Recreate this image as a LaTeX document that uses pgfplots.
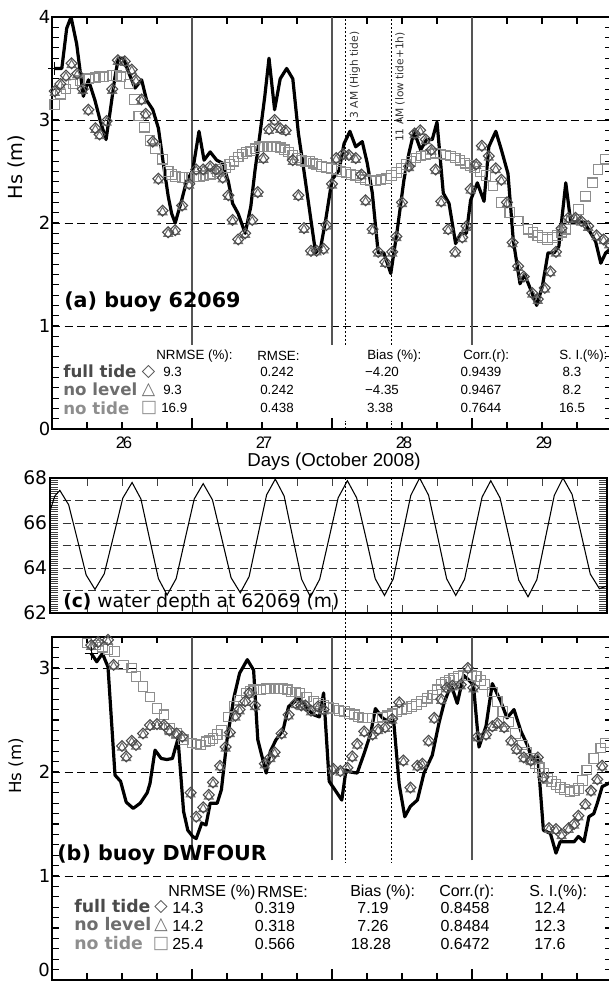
\documentclass[border=0pt]{standalone}
\usepackage{fontspec}
\setmainfont{DejaVu Sans}
\newfontfamily\hel{Liberation Sans}
\usepackage{pgfplots}
\pgfplotsset{compat=1.18}
\usepackage{pgfplotstable}

\definecolor{cfull}{HTML}{4A4A4A}
\definecolor{clev}{HTML}{6E6E6E}
\definecolor{cnone}{HTML}{8E8E8E}
\definecolor{cvl}{HTML}{555555}
\newcommand\fs[1]{\fontsize{#1}{#1}\selectfont}

% ---------- panel (a): buoy 62069 ----------
\pgfplotstableread{
d hs
25.52 3.50
25.57 3.50
25.605 3.89
25.636 4.00
25.676 3.74
25.724 3.23
25.76 3.39
25.807 3.19
25.843 3.00
25.886 2.81
25.914 3.07
25.95 3.42
25.974 3.60
26.01 3.60
26.045 3.47
26.093 3.31
26.14 3.39
26.176 3.19
26.22 3.10
26.26 2.92
26.295 2.58
26.33 2.26
26.355 2.09
26.38 2.00
26.426 2.22
26.46 2.40
26.505 2.51
26.55 2.89
26.586 2.61
26.63 2.69
26.676 2.61
26.72 2.58
26.76 2.40
26.79 2.19
26.83 2.09
26.88 1.90
26.92 2.16
26.95 2.51
26.986 2.87
27.02 3.23
27.05 3.60
27.09 3.10
27.13 3.40
27.176 3.50
27.22 3.40
27.26 2.87
27.295 2.55
27.34 2.12
27.383 1.71
27.42 1.77
27.455 2.03
27.50 2.42
27.55 2.51
27.586 2.77
27.628 2.89
27.669 2.74
27.716 2.79
27.752 2.58
27.788 2.29
27.83 1.71
27.87 1.71
27.92 1.51
27.966 1.93
28.014 2.42
28.05 2.68
28.086 2.89
28.133 2.71
28.176 2.81
28.216 2.81
28.25 2.98
28.295 2.29
28.336 2.19
28.383 1.80
28.42 1.90
28.46 1.90
28.49 2.22
28.538 2.39
28.586 2.21
28.62 2.74
28.67 2.89
28.71 2.71
28.757 2.48
28.795 1.83
28.843 1.41
28.876 1.50
28.92 1.35
28.962 1.20
29.002 1.38
29.043 1.71
29.086 1.71
29.12 1.77
29.17 2.39
29.205 2.01
29.25 2.01
29.30 2.01
29.336 1.93
29.383 1.82
29.42 1.61
29.455 1.71
29.49 1.75
}\aobs

\pgfplotstableread{
d hs
25.52 3.28
25.56 3.35
25.60 3.43
25.64 3.55
25.68 3.45
25.72 3.30
25.76 3.10
25.81 2.92
25.84 2.86
25.89 2.99
25.93 3.30
25.97 3.58
26.02 3.57
26.07 3.49
26.10 3.39
26.14 3.20
26.17 3.06
26.22 2.79
26.26 2.43
26.29 2.12
26.33 1.91
26.38 1.93
26.43 2.17
26.48 2.38
26.53 2.52
26.58 2.52
26.63 2.55
26.67 2.52
26.72 2.44
26.76 2.27
26.79 2.03
26.83 1.84
26.88 1.90
26.93 2.03
26.97 2.30
27.01 2.63
27.05 2.91
27.09 3.00
27.13 2.92
27.17 2.90
27.22 2.61
27.26 2.27
27.30 1.95
27.35 1.73
27.39 1.73
27.44 1.75
27.46 1.98
27.50 2.38
27.53 2.63
27.58 2.67
27.62 2.66
27.67 2.63
27.71 2.47
27.74 2.22
27.79 1.94
27.83 1.72
27.88 1.62
27.93 1.72
27.96 1.87
28.00 2.20
28.05 2.55
28.09 2.87
28.13 2.90
28.17 2.81
28.21 2.71
28.24 2.52
28.28 2.21
28.33 1.94
28.38 1.72
28.43 1.86
28.46 1.97
28.49 2.33
28.53 2.57
28.57 2.75
28.62 2.65
28.67 2.53
28.71 2.42
28.75 2.20
28.79 1.81
28.83 1.58
28.87 1.48
28.93 1.32
28.97 1.26
29.02 1.37
29.06 1.53
29.10 1.72
29.14 1.95
29.19 2.05
29.24 2.05
29.28 2.02
29.33 1.97
29.39 1.88
29.44 1.84
29.48 1.80
}\afull

\pgfplotstableread{
d hs
25.52 3.15
25.56 3.25
25.60 3.30
25.65 3.35
25.70 3.38
25.76 3.40
25.81 3.41
25.87 3.42
25.93 3.43
25.99 3.42
26.05 3.35
26.09 3.20
26.12 3.04
26.16 2.93
26.20 2.80
26.24 2.72
26.29 2.62
26.33 2.50
26.38 2.45
26.43 2.44
26.48 2.44
26.53 2.45
26.58 2.46
26.63 2.47
26.68 2.50
26.74 2.54
26.80 2.60
26.86 2.67
26.92 2.70
26.98 2.74
27.04 2.74
27.10 2.74
27.16 2.71
27.22 2.66
27.28 2.61
27.34 2.60
27.39 2.57
27.46 2.54
27.53 2.52
27.60 2.49
27.67 2.46
27.74 2.42
27.81 2.41
27.89 2.43
27.96 2.49
28.03 2.57
28.10 2.63
28.17 2.66
28.24 2.68
28.31 2.66
28.38 2.63
28.45 2.58
28.52 2.54
28.60 2.46
28.65 2.36
28.71 2.20
28.77 2.10
28.83 2.02
28.90 1.94
28.97 1.88
29.04 1.84
29.11 1.88
29.17 1.94
29.21 2.03
29.26 2.13
29.31 2.26
29.36 2.39
29.40 2.52
29.45 2.62
25.84 3.42
25.96 3.43
26.355 2.47
26.455 2.44
26.555 2.45
26.655 2.48
26.71 2.52
26.77 2.57
26.83 2.64
26.89 2.69
26.95 2.72
27.01 2.74
27.07 2.74
27.13 2.73
27.19 2.69
27.25 2.63
27.31 2.60
27.365 2.58
27.425 2.55
27.495 2.53
27.565 2.50
27.635 2.47
27.705 2.44
27.775 2.41
27.85 2.42
27.925 2.46
27.995 2.53
28.065 2.60
28.135 2.65
28.205 2.67
28.275 2.67
28.345 2.65
28.415 2.61
28.485 2.56
28.56 2.50
28.935 1.91
29.005 1.86
29.075 1.86
29.14 1.91
}\anone

% ---------- panel (c): water depth at 62069 ----------
\pgfplotstableread{
d h
25.489 66.6
25.52 67.2
25.556 67.45
25.619 66.81
25.682 65.25
25.744 63.69
25.807 63.05
25.873 63.74
25.94 65.43
26.006 67.11
26.072 67.80
26.135 67.07
26.197 65.30
26.26 63.53
26.322 62.80
26.387 63.53
26.451 65.30
26.516 67.07
26.58 67.75
26.646 67.03
26.713 65.30
26.779 63.57
26.845 62.90
26.908 63.62
26.97 65.43
27.033 67.25
27.095 67.95
27.158 67.20
27.22 65.35
27.283 63.50
27.346 62.72
27.412 63.50
27.478 65.30
27.544 67.12
27.61 67.88
27.676 67.12
27.743 65.33
27.809 63.52
27.875 62.78
27.938 63.52
28.00 65.38
28.063 67.23
28.126 68.00
28.19 67.23
28.255 65.38
28.319 63.52
28.384 62.78
28.447 63.50
28.509 65.33
28.572 67.15
28.634 67.88
28.70 67.12
28.767 65.30
28.834 63.46
28.90 62.72
28.963 63.48
29.025 65.35
29.088 67.23
29.15 68.00
29.215 67.27
29.28 65.50
29.345 63.73
29.41 63.08
29.464 63.20
}\depth

% ---------- panel (b): buoy DWFOUR ----------
\pgfplotstableread{
d hs
25.78 3.14
25.82 3.06
25.86 3.14
25.90 3.01
25.95 1.97
25.99 1.91
26.03 1.71
26.08 1.65
26.13 1.70
26.18 1.80
26.20 1.89
26.236 2.21
26.28 2.13
26.32 2.12
26.36 2.13
26.40 2.32
26.44 1.62
26.47 1.44
26.505 1.38
26.53 1.36
26.57 1.51
26.60 1.49
26.63 1.70
26.68 1.70
26.71 1.83
26.75 2.31
26.80 2.72
26.84 2.95
26.895 3.08
26.94 2.98
26.97 2.31
27.03 1.99
27.06 2.20
27.10 2.31
27.15 2.40
27.19 2.63
27.22 2.66
27.26 2.71
27.30 2.66
27.32 2.61
27.37 2.55
27.41 2.53
27.44 2.76
27.48 1.91
27.53 1.81
27.57 1.73
27.60 2.02
27.63 2.00
27.68 1.99
27.73 2.18
27.776 2.37
27.81 2.61
27.86 2.52
27.907 2.48
27.94 2.50
27.98 1.88
28.02 1.57
28.06 1.67
28.11 1.73
28.157 1.99
28.216 2.16
28.264 2.47
28.30 2.66
28.35 2.84
28.395 2.66
28.44 2.93
28.48 2.88
28.51 2.84
28.55 2.24
28.60 2.44
28.645 2.85
28.705 2.68
28.75 2.52
28.80 2.60
28.85 2.39
28.895 2.26
28.93 2.12
28.97 2.15
29.01 1.44
29.06 1.41
29.10 1.22
29.13 1.33
29.18 1.33
29.23 1.33
29.26 1.38
29.30 1.33
29.335 1.57
29.37 1.60
29.395 1.70
29.43 1.86
29.49 1.90
}\bobs

\pgfplotstableread{
d hs
25.78 3.22
25.83 3.25
25.90 3.27
25.94 3.03
26.00 2.25
26.03 2.15
26.07 2.30
26.10 2.26
26.15 2.37
26.20 2.45
26.25 2.46
26.30 2.45
26.34 2.40
26.39 2.37
26.43 2.34
26.49 1.80
26.53 1.57
26.58 1.66
26.62 1.78
26.65 1.90
26.70 2.06
26.74 2.24
26.77 2.38
26.81 2.54
26.84 2.60
26.88 2.68
26.91 2.76
26.95 2.64
27.02 2.08
27.06 2.14
27.09 2.19
27.14 2.37
27.19 2.55
27.24 2.66
27.28 2.64
27.31 2.64
27.35 2.59
27.40 2.63
27.44 2.60
27.51 2.03
27.56 2.01
27.61 2.04
27.645 2.15
27.68 2.27
27.73 2.39
27.79 2.36
27.83 2.41
27.88 2.43
27.93 2.51
27.98 2.67
28.01 2.11
28.06 1.85
28.11 2.06
28.145 2.08
28.19 2.30
28.23 2.52
28.28 2.70
28.32 2.81
28.36 2.83
28.42 2.84
28.47 3.00
28.51 2.81
28.54 2.34
28.60 2.36
28.645 2.44
28.68 2.47
28.73 2.43
28.78 2.30
28.82 2.22
28.87 2.14
28.92 2.11
28.97 2.14
29.01 1.95
29.05 1.46
29.10 1.45
29.14 1.40
29.19 1.46
29.23 1.50
29.26 1.58
29.31 1.69
29.35 1.82
29.395 1.93
29.43 2.06
}\bfull

\pgfplotstableread{
d hs
25.75 3.24
25.81 3.22
25.86 3.20
25.945 3.16
26.01 3.03
26.07 3.00
26.10 2.92
26.15 2.82
26.20 2.72
26.25 2.61
26.30 2.55
26.34 2.42
26.39 2.37
26.44 2.31
26.50 2.28
26.56 2.26
26.60 2.29
26.65 2.32
26.71 2.40
26.76 2.53
26.80 2.63
26.84 2.69
26.89 2.76
26.94 2.79
26.99 2.79
27.03 2.80
27.09 2.80
27.15 2.80
27.21 2.77
27.27 2.76
27.37 2.68
27.44 2.64
27.51 2.61
27.59 2.58
27.66 2.55
27.72 2.52
27.79 2.52
27.86 2.53
27.93 2.56
28.00 2.60
28.07 2.63
28.14 2.68
28.22 2.74
28.28 2.84
28.34 2.88
28.40 2.92
28.47 2.93
28.53 2.92
28.59 2.84
28.645 2.77
28.68 2.68
28.72 2.58
28.76 2.48
28.81 2.37
28.86 2.26
28.92 2.13
28.98 2.04
29.04 1.94
29.10 1.88
29.16 1.83
29.20 1.81
29.26 1.84
29.32 2.02
29.37 2.13
29.42 2.23
29.455 2.28
25.90 3.18
26.53 2.27
26.625 2.30
26.68 2.36
26.915 2.78
26.965 2.79
27.06 2.80
27.12 2.80
27.18 2.79
27.24 2.77
27.32 2.72
27.405 2.66
27.475 2.62
27.55 2.59
27.625 2.56
27.69 2.53
27.755 2.52
27.825 2.52
27.895 2.54
27.965 2.58
28.035 2.61
28.105 2.65
28.18 2.71
28.25 2.79
28.31 2.86
28.37 2.90
28.435 2.93
28.50 2.93
28.56 2.88
28.89 2.19
28.95 2.08
29.01 1.99
29.07 1.91
29.13 1.85
29.23 1.82
29.29 1.92
}\bnone

\tikzset{
  vline/.style={cvl, line width=0.8pt},
  dotl/.style={black, line width=1.1pt, dash pattern=on 1.5pt off 1.5pt},
}
\pgfplotsset{
  hsaxis/.style={
    scale only axis, width=420pt, xmin=25.5, xmax=29.5,
    axis line style={line width=1.1pt},
    tick style={black, line width=0.8pt},
    major tick length=5pt, minor tick length=5pt,
    tick align=inside,
    xtick={26,27,28,29},
    minor xtick={25.75,26.25,26.75,27.25,27.75,28.25,28.75,29.25},
    extra x ticks={26.5,27.5,28.5},
    extra x tick labels={},
    extra x tick style={major tick length=8pt, grid=none},
    ytick={0,1,2,3,4}, yticklabels={0,1,2,3,4},
    minor y tick num=9,
    ymajorgrids,
    major grid style={black, line width=0.7pt, dash pattern=on 6pt off 3.5pt},
    yticklabel style={font=\fs{13.5}, inner xsep=1pt},
  },
  obsline/.style={black, line width=2.4pt, line join=round, no marks},
  fullm/.style={only marks, mark=square, mark size=2.9pt,
    mark options={rotate=45, draw=cfull, line width=0.8pt, fill=none}},
  levm/.style={only marks, mark=triangle, mark size=3.8pt,
    mark options={yshift=-1.2pt, draw=clev, line width=0.8pt, fill=none}},
  nonem/.style={only marks, mark=square, mark size=3.6pt,
    mark options={draw=cnone, line width=0.85pt, fill=none}},
}

\begin{document}
\begin{tikzpicture}
\useasboundingbox (0,0) rectangle (456pt,736.5pt);

% (a)
\begin{axis}[hsaxis, at={(39pt,414.75pt)}, anchor=south west,
  height=309pt, ymin=0, ymax=4,
  xticklabels={2\kern-1.6pt6,2\kern-1.6pt7,2\kern-1.6pt8,2\kern-1.6pt9},
  xticklabel style={font=\hel\fs{12.5}, xshift=1.5pt, yshift=-2pt}]
\draw[vline] (axis cs:26.5,0.82) -- (axis cs:26.5,4);
\draw[vline] (axis cs:27.5,0.82) -- (axis cs:27.5,4);
\draw[vline] (axis cs:28.5,0.82) -- (axis cs:28.5,4);
\draw[dotl] (axis cs:27.595,0.82) -- (axis cs:27.595,4);
\draw[dotl] (axis cs:27.925,0.82) -- (axis cs:27.925,4);
\draw[dotl] (axis cs:27.595,0) -- (axis cs:27.595,0.08);
\draw[dotl] (axis cs:27.925,0) -- (axis cs:27.925,0.08);
\addplot[nonem] table[x=d,y=hs] {\anone};
\addplot[levm] table[x=d,y=hs] {\afull};
\addplot[fullm] table[x=d,y=hs] {\afull};
\addplot[obsline] table[x=d,y=hs] {\aobs};
\addplot[only marks, mark=+, mark size=5pt, line width=0.9pt] coordinates {(25.52,3.5)};
\end{axis}

% (c)
\begin{axis}[scale only axis, at={(37.5pt,276.75pt)}, anchor=south west,
  width=417.75pt, height=101.25pt,
  xmin=25.4857, xmax=29.4643, ymin=62, ymax=68, clip=false,
  axis line style={line width=1.1pt},
  tick style={black!75, line width=0.6pt},
  major tick length=6pt, minor tick length=6pt, tick align=inside,
  xtick={26,27,28,29},
  minor xtick={25.75,26.25,26.5,26.75,27.25,27.5,27.75,28.25,28.5,28.75,29.25},
  xticklabels={},
  ytick={62,...,68}, yticklabels={62,,64,,66,,68},
  minor y tick num=9,
  ymajorgrids,
  major grid style={black!80, line width=0.7pt, dash pattern=on 6pt off 3.5pt},
  yticklabel style={font=\fs{14}, inner xsep=2pt}]
\addplot[black, line width=0.8pt, no marks] table[x=d,y=h] {\depth};
\draw[dotl] (axis cs:27.595,68) -- (axis cs:27.595,50.93);
\draw[dotl] (axis cs:27.925,68) -- (axis cs:27.925,50.89);
\end{axis}

% (b)
\begin{axis}[hsaxis, at={(39pt,1.5pt)}, anchor=south west,
  height=257.4pt, ymin=0, ymax=3.3, xticklabels={},
  yticklabels={,1,2,3}]
\draw[vline] (axis cs:26.5,1.15) -- (axis cs:26.5,3.3);
\draw[vline] (axis cs:27.5,1.15) -- (axis cs:27.5,3.3);
\draw[vline] (axis cs:28.5,1.15) -- (axis cs:28.5,3.3);
\addplot[nonem] table[x=d,y=hs] {\bnone};
\addplot[levm] table[x=d,y=hs] {\bfull};
\addplot[fullm] table[x=d,y=hs] {\bfull};
\addplot[obsline] table[x=d,y=hs] {\bobs};
\addplot[only marks, mark=+, mark size=5pt, line width=0.9pt] coordinates {(25.78,3.14)};
\end{axis}

% texts, in pixel positions of the reference
\begin{scope}[x=0.75pt, y=-0.75pt, shift={(0pt,736.5pt)}]
\node[rotate=90, font=\fs{14.5}] at (16,167) {Hs (m)};
\node[rotate=90, font=\fs{12.5}] at (16,766) {Hs (m)};
\node[anchor=south east, inner sep=0, font=\fs{13.5}] at (50,977) {0};
\node[anchor=west, inner sep=0, font=\bfseries\fs{15.5}] at (64,302) {(a) buoy 62069};
\node[anchor=west, inner sep=0, font=\bfseries\fs{15.5}] at (57,855) {(b) buoy DWFOUR};
\node[anchor=west, inner sep=0, font=\fs{14}] at (63,602) {\textbf{(c)} water depth at 62069 (m)};
\node[font=\hel\fs{14}] at (334,462) {Days (October 2008)};
\node[rotate=90, font=\fs{8}, text=black!80] at (355,75) {3 AM (High tide)};
\node[rotate=90, font=\fs{8}, text=black!80] at (400,87) {11 AM (low tide+1h)};

% stats (a)
\begin{scope}[every node/.style={inner sep=0, font=\hel\fs{10}}]
\node[anchor=west] at (156,356) {NRMSE (\%):};
\node[anchor=west] at (257,356) {RMSE:};
\node[anchor=west] at (367,356) {Bias (\%):};
\node[anchor=west] at (463,356) {Corr.(r):};
\node[anchor=west] at (559,356) {S. I.(\%):};
\node[anchor=west, font=\bfseries\fs{12.5}, text=cfull] at (63,371) {full tide};
\node[anchor=west, font=\bfseries\fs{12.5}, text=clev] at (63,389) {no level};
\node[anchor=west, font=\bfseries\fs{12.5}, text=cnone] at (63,408) {no tide};
\node[font=\fs{13}, text=cfull] at (148.5,372) {◇};
\node[font=\fs{13}, text=clev] at (148.5,390) {△};
\node[font=\fs{13}, text=cnone] at (149,408) {□};
\node[anchor=west] at (163,372) {9.3};
\node[anchor=west] at (163,390) {9.3};
\node[anchor=west] at (161,408) {16.9};
\node at (277,372) {0.242};
\node at (277,390) {0.242};
\node at (277,408) {0.438};
\node at (382,372) {−4.20};
\node at (382,390) {−4.35};
\node at (380,408) {3.38};
\node at (481,372) {0.9439};
\node at (481,390) {0.9467};
\node at (481,408) {0.7644};
\node at (572,372) {8.3};
\node at (572,390) {8.2};
\node at (572,408) {16.5};
\end{scope}

% stats (b)
\begin{scope}[every node/.style={inner sep=0, font=\hel\fs{12}}]
\node[anchor=west] at (168,892) {NRMSE (\%)};
\node[anchor=west] at (257,892) {RMSE:};
\node[anchor=west] at (350,892) {Bias (\%):};
\node[anchor=west] at (439,892) {Corr.(r):};
\node[anchor=west] at (529,892) {S. I.(\%):};
\node[anchor=west, font=\bfseries\fs{13}, text=cfull] at (74,906) {full tide};
\node[anchor=west, font=\bfseries\fs{13}, text=clev] at (74,924) {no level};
\node[anchor=west, font=\bfseries\fs{13}, text=cnone] at (74,943) {no tide};
\node[font=\fs{13}, text=cfull] at (161,907) {◇};
\node[font=\fs{13}, text=clev] at (161,925) {△};
\node[font=\fs{13}, text=cnone] at (161,944) {□};
\node[anchor=west] at (172,908) {14.3};
\node[anchor=west] at (172,926) {14.2};
\node[anchor=west] at (172,944) {25.4};
\node at (275,908) {0.319};
\node at (275,926) {0.318};
\node at (275,944) {0.566};
\node at (373,908) {7.19};
\node at (373,926) {7.26};
\node at (371,944) {18.28};
\node at (465,908) {0.8458};
\node at (465,926) {0.8484};
\node at (465,944) {0.6472};
\node at (550,908) {12.4};
\node at (550,926) {12.3};
\node at (550,944) {17.6};
\end{scope}
\end{scope}
\end{tikzpicture}
\end{document}
